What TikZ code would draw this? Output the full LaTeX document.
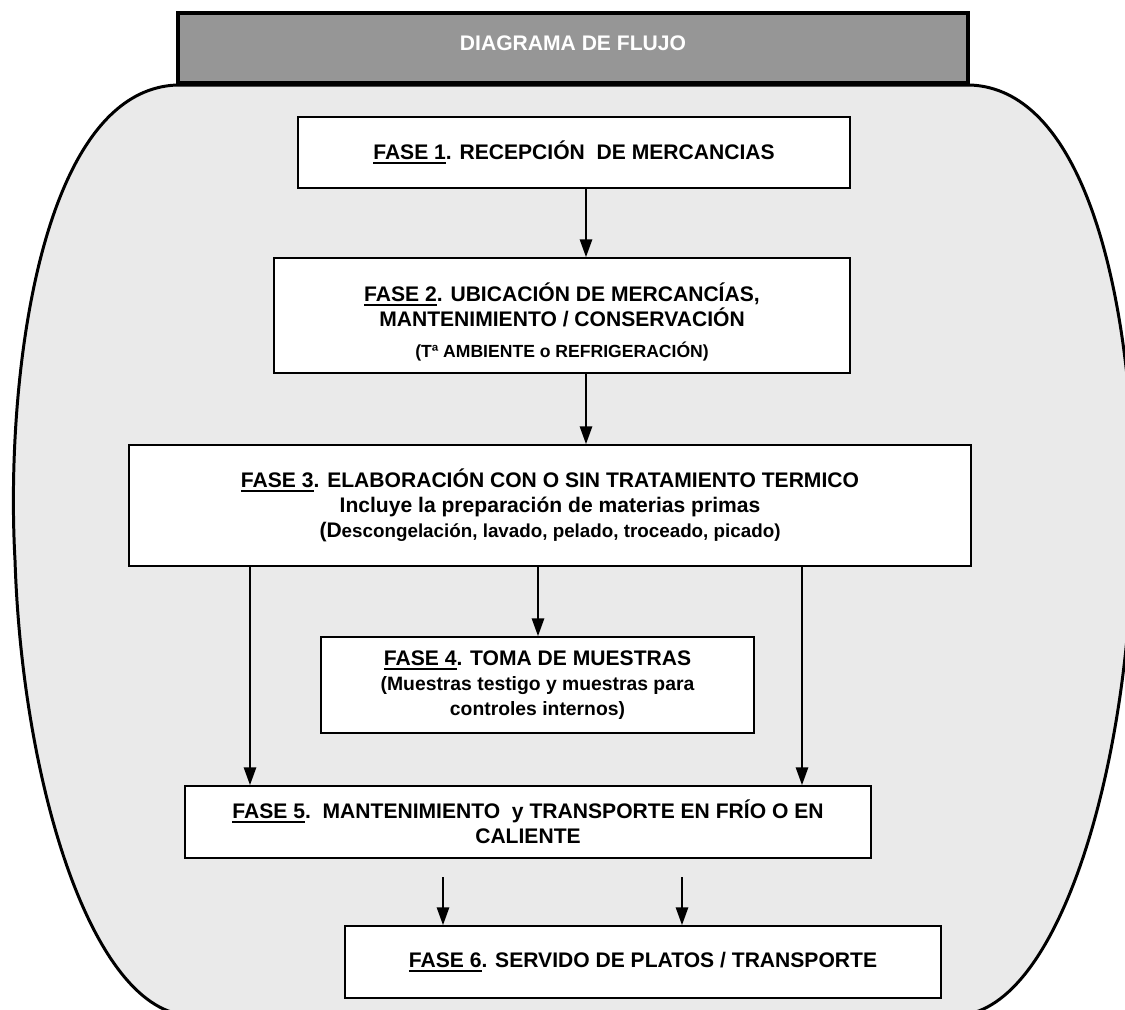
\documentclass[tikz,border=0pt]{standalone}
\usepackage{fontspec}
\setmainfont{Liberation Sans}
\usetikzlibrary{positioning,arrows.meta}
\definecolor{fondo}{RGB}{234,234,234}
\definecolor{cabecera}{RGB}{150,150,150}
\newsavebox{\fasecaja}
\newcommand{\fasenum}[1]{\sbox\fasecaja{#1}\rlap{\rule[-2.5pt]{\wd\fasecaja}{1.3pt}}\usebox\fasecaja}
\tikzset{
  fasebox/.style={rectangle, draw=black, fill=white, line width=1.1pt, align=center, inner sep=2pt,
    font=\bfseries\fontsize{12}{14.2}\selectfont},
  flecha/.style={-{Triangle[length=10pt,width=7pt]}, line width=0.9pt}
}
\begin{document}
\begin{tikzpicture}[x=0.02cm,y=-0.02cm]
			\useasboundingbox (0,0) rectangle (1125,1009);
			\clip (0,0) rectangle (1125,1009);
			% fondo redondeado
			\draw[fill=fondo, line width=1.7pt] (177,85) -- (970,85)
				.. controls (1107,90) and (1142,380) .. (1132,560)
				.. controls (1125,780) and (1057,1005) .. (962,1015) -- (185,1015)
				.. controls (90,1005) and (22,780) .. (15,560)
				.. controls (5,380) and (40,90) .. (177,85) -- cycle;
			\node[rectangle, draw=black, fill=cabecera, line width=2pt, minimum width=15.8cm, minimum height=1.4cm,
				text=white, font=\bfseries\fontsize{12}{14}\selectfont] (titulo) at (573,48)
				{\raisebox{2.8pt}[\height][\depth]{DIAGRAMA DE FLUJO}};
			% fases
			\node[fasebox, minimum width=11.04cm, minimum height=1.42cm] (f1) at (574,152.5)
				{\fasenum{FASE 1}. RECEPCIÓN\ \ DE MERCANCIAS};
			\node[fasebox, minimum width=11.52cm, minimum height=2.30cm] (f2) at (562,315.5)
				{\rule{0pt}{18pt}\fasenum{FASE 2}. UBICACIÓN DE MERCANCÍAS,\\ MANTENIMIENTO / CONSERVACIÓN\\[3pt]
				{\fontsize{10}{12}\selectfont (Tª AMBIENTE o REFRIGERACIÓN)}};
			\node[fasebox, minimum width=16.84cm, minimum height=2.42cm] (f3) at (550,505.5)
				{\fasenum{FASE 3}. ELABORACIÓN CON O SIN TRATAMIENTO TERMICO\\ Incluye la preparación de materias primas\\
				{(D\fontsize{10.7}{13}\selectfont escongelación, lavado, pelado, troceado, picado)}};
			\node[fasebox, minimum width=8.66cm, minimum height=1.92cm] (f4) at (537.5,685)
				{\fasenum{FASE 4}. TOMA DE MUESTRAS\\ {\fontsize{11}{13}\selectfont (Muestras testigo y muestras para}\\
				{\fontsize{11}{13}\selectfont controles internos)}};
			\node[fasebox, minimum width=13.72cm, minimum height=1.44cm] (f5) at (528,822)
				{\fasenum{FASE 5}.\ \ MANTENIMIENTO\ \ y TRANSPORTE EN FRÍO O EN\\ CALIENTE};
			\node[fasebox, minimum width=11.92cm, minimum height=1.44cm] (f6) at (643,962)
				{\fasenum{FASE 6}. SERVIDO DE PLATOS / TRANSPORTE};
			% flechas
			\coordinate (eje) at (586,0);
			\coordinate (ejeA) at (250,0);
			\coordinate (ejeB) at (538,0);
			\coordinate (ejeC) at (802,0);
			\coordinate (s5a) at (443,877);
			\coordinate (s5b) at (682,877);
			\draw[flecha] (f1.south -| eje) -- (f2.north -| eje);
			\draw[flecha] (f2.south -| eje) -- (f3.north -| eje);
			\draw[flecha] (f3.south -| ejeA) -- (f5.north -| ejeA);
			\draw[flecha] (f3.south -| ejeB) -- (f4.north -| ejeB);
			\draw[flecha] (f3.south -| ejeC) -- (f5.north -| ejeC);
			\draw[flecha] (s5a) -- (f6.north -| s5a);
			\draw[flecha] (s5b) -- (f6.north -| s5b);
		\end{tikzpicture}
\end{document}
